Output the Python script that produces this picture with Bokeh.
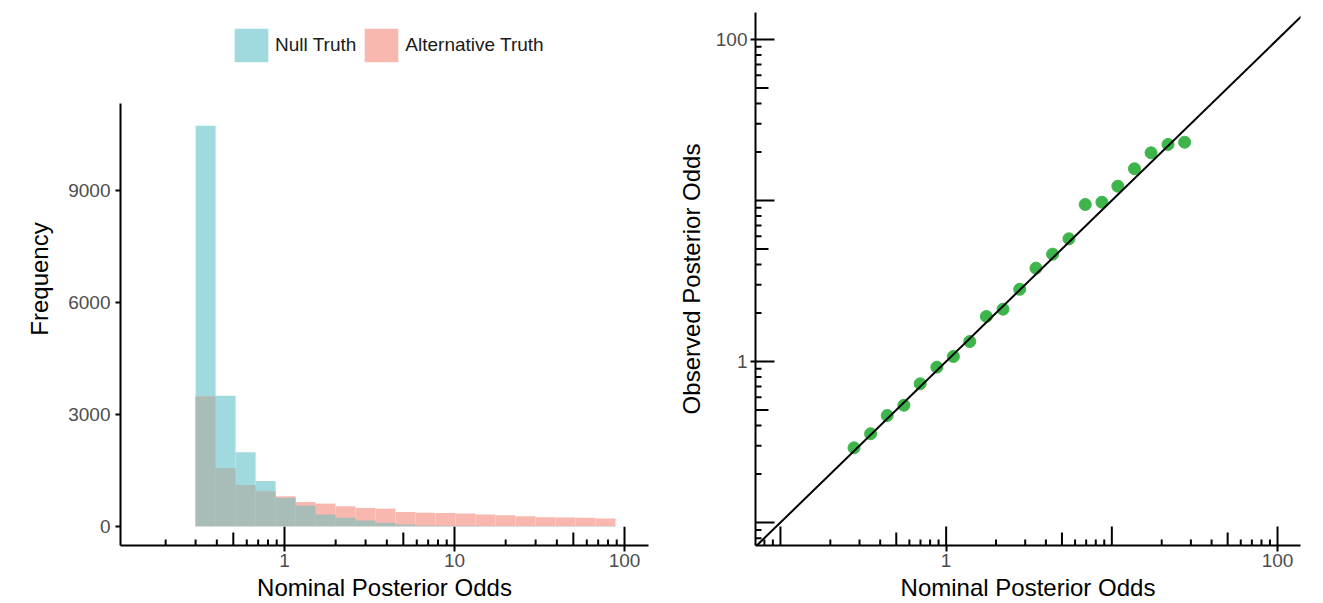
from bokeh.plotting import figure
from bokeh.layouts import row
from bokeh.models import (Range1d, FixedTicker, Legend, LegendItem, ColumnDataSource,
                          Slope, LinearScale)
from bokeh.embed import file_html
from bokeh.resources import INLINE

# ---------------- data ----------------
bin_edges = [0.300, 0.3933, 0.5157, 0.6761, 0.8861, 1.1618, 1.5230, 1.9966, 2.6173,
             3.4314, 4.4985, 5.8977, 7.7322, 10.137, 13.289, 17.422, 22.840, 29.944,
             39.256, 51.465, 67.473, 88.455]
null_counts = [10740, 3500, 1980, 1210, 760, 551, 311, 222, 151, 89, 45, 20, 12, 8, 6,
               4, 3, 2, 2, 1, 1]
alt_counts = [3480, 1561, 1101, 935, 800, 647, 604, 532, 488, 470, 381, 360, 350, 338,
              311, 293, 266, 240, 231, 222, 204]

nominal_odds = [0.278, 0.350, 0.441, 0.556, 0.697, 0.879, 1.106, 1.389, 1.749, 2.205,
                2.78, 3.485, 4.39, 5.51, 6.91, 8.71, 10.87, 13.70, 17.25, 21.83, 27.5]
observed_odds = [0.291, 0.356, 0.462, 0.535, 0.727, 0.922, 1.074, 1.331, 1.904, 2.113,
                 2.81, 3.80, 4.64, 5.78, 9.44, 9.76, 12.27, 15.74, 19.78, 22.28, 23.0]

hist_x_ticks = [1, 10, 100]
hist_y_ticks = [0, 3000, 6000, 9000]
cal_ticks = [1, 100]
log_mantissas = [1, 2, 3, 4, 5, 6, 7, 8, 9]
log_exponents = [-2, -1, 0, 1, 2]

# ---------------- style ----------------
FONT = "Liberation Sans"
TEAL = "#A0DADE"
SALMON = "#F8B8AF"
OVERLAP = "#A8BCB8"
GREEN = "#3DB54A"
TICK_GRAY = "#4D4D4D"
LONG, MID, SHORT = 19, 13, 6


def style_axes(p):
    for ax in (p.xaxis, p.yaxis):
        ax.axis_line_width = 2
        ax.axis_line_color = "black"
        ax.major_tick_line_width = 2
        ax.major_tick_line_color = "black"
        ax.major_tick_in = 0
        ax.major_tick_out = 5
        ax.minor_tick_line_color = None
        ax.major_label_text_font = FONT
        ax.major_label_text_font_size = "19px"
        ax.major_label_text_color = TICK_GRAY
        ax.axis_label_text_font = FONT
        ax.axis_label_text_font_size = "24px"
        ax.axis_label_text_font_style = "normal"
        ax.axis_label_text_color = "black"
    p.xgrid.visible = False
    p.ygrid.visible = False
    p.outline_line_color = None
    p.background_fill_color = "white"
    p.border_fill_color = "white"


def log_ticks(lo, hi):
    vals, lens = [], []
    for e in log_exponents:
        for m in log_mantissas:
            v = m * 10.0 ** e
            if lo <= v <= hi:
                vals.append(v)
                lens.append(LONG if m == 1 else (MID if m == 5 else SHORT))
    return vals, lens


H = 603
# ---------------- left: histogram ----------------
x1_lo, x1_hi = 0.1085, 138.4
y1_lo, y1_hi = -519, 11327        # extent of the drawn y axis
y1_view_hi = 13776                # room above the panel for the legend
p1 = figure(width=668, height=H, x_axis_type="log",
            x_range=Range1d(x1_lo, x1_hi), y_range=Range1d(y1_lo, y1_view_hi),
            output_backend="svg", toolbar_location=None,
            min_border_left=120, min_border_right=20, min_border_top=8,
            min_border_bottom=58)
frame1_h = 537
p1.extra_y_ranges = {"px": Range1d(0, frame1_h)}
p1.extra_y_scales = {"px": LinearScale()}

left = bin_edges[:-1]
right = bin_edges[1:]
overlap = [min(a, b) for a, b in zip(null_counts, alt_counts)]
src = ColumnDataSource(dict(left=left, right=right, null=null_counts,
                            alt=alt_counts, both=overlap, zero=[0] * len(left)))

r_null = p1.quad(left="left", right="right", bottom="zero", top="null", source=src,
                 fill_color=TEAL, line_color=None)
r_alt = p1.quad(left="left", right="right", bottom="zero", top="alt", source=src,
                fill_color=SALMON, line_color=None)
p1.quad(left="left", right="right", bottom="zero", top="both", source=src,
        fill_color=OVERLAP, line_color=None)

tv, tl = log_ticks(x1_lo, x1_hi)
p1.segment(x0=tv, x1=tv, y0=[0] * len(tv), y1=tl, y_range_name="px",
           line_color="black", line_width=2)

style_axes(p1)
p1.xaxis.ticker = FixedTicker(ticks=hist_x_ticks)
p1.yaxis.ticker = FixedTicker(ticks=hist_y_ticks)
p1.yaxis.bounds = (y1_lo, y1_hi)
p1.xaxis.major_tick_out = 6
p1.xaxis.major_label_standoff = 2
p1.xaxis.axis_label_standoff = 4
p1.yaxis.major_label_standoff = 5
p1.yaxis.axis_label_standoff = 12
p1.xaxis.axis_label = "Nominal Posterior Odds"
p1.yaxis.axis_label = "Frequency"
p1.xaxis.major_label_overrides = {1: "1", 10: "10", 100: "100"}

legend = Legend(items=[LegendItem(label="Null Truth", renderers=[r_null]),
                       LegendItem(label="Alternative Truth", renderers=[r_alt])],
                orientation="horizontal", location=(110, 479),
                glyph_width=42, glyph_height=42, label_height=42,
                label_text_font=FONT, label_text_font_size="19px",
                label_text_color="#1a1a1a",
                spacing=4, label_standoff=3, padding=0, margin=0,
                border_line_color=None, background_fill_alpha=0)
p1.add_layout(legend, "center")

# ---------------- right: calibration ----------------
x2_lo, x2_hi = 0.0707, 137.6
y2_lo, y2_hi = 0.0720, 147.0
p2 = figure(width=647, height=H, x_axis_type="log", y_axis_type="log",
            x_range=Range1d(x2_lo, x2_hi), y_range=Range1d(y2_lo, y2_hi),
            output_backend="svg", toolbar_location=None,
            min_border_left=87, min_border_right=15, min_border_top=12,
            min_border_bottom=58)
frame2_w, frame2_h = 545, 533
p2.extra_x_ranges = {"px": Range1d(0, frame2_w)}
p2.extra_y_ranges = {"px": Range1d(0, frame2_h)}
p2.extra_x_scales = {"px": LinearScale()}
p2.extra_y_scales = {"px": LinearScale()}

p2.add_layout(Slope(gradient=1, y_intercept=0, line_color="black", line_width=2))
p2.scatter(x=nominal_odds, y=observed_odds, size=12, fill_color=GREEN,
           line_color=GREEN)

xv, xl = log_ticks(x2_lo, x2_hi)
p2.segment(x0=xv, x1=xv, y0=[0] * len(xv), y1=xl, y_range_name="px",
           line_color="black", line_width=2)
yv, yl = log_ticks(y2_lo, y2_hi)
p2.segment(x0=[0] * len(yv), x1=yl, y0=yv, y1=yv, x_range_name="px",
           line_color="black", line_width=2)

style_axes(p2)
p2.xaxis.ticker = FixedTicker(ticks=cal_ticks)
p2.yaxis.ticker = FixedTicker(ticks=cal_ticks)
p2.xaxis.major_label_overrides = {1: "1", 100: "100"}
p2.yaxis.major_label_overrides = {1: "1", 100: "100"}
p2.xaxis.major_tick_out = 6
p2.xaxis.major_label_standoff = 2
p2.xaxis.axis_label_standoff = 4
p2.yaxis.major_label_standoff = 3
p2.yaxis.axis_label_standoff = 8
p2.xaxis.axis_label = "Nominal Posterior Odds"
p2.yaxis.axis_label = "Observed Posterior Odds"

layout = row(p1, p2)
open("out.html", "w").write(file_html(layout, INLINE))
